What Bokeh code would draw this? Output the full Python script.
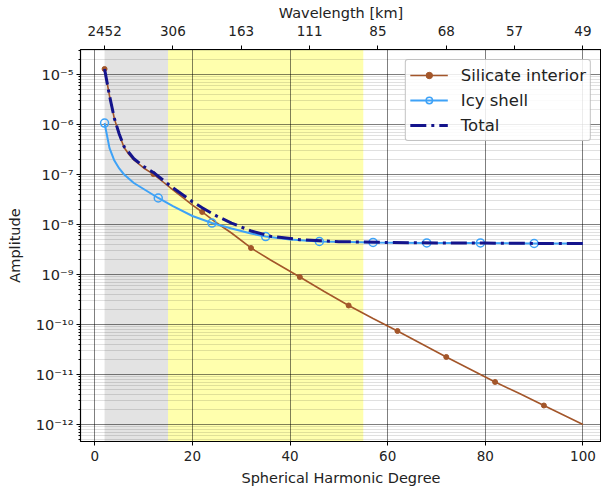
from bokeh.plotting import figure
from bokeh.models import (Range1d, LinearAxis, FixedTicker, BoxAnnotation, Legend,
                          LegendItem, CustomJSTickFormatter)
from bokeh.embed import file_html
from bokeh.resources import INLINE

# ---------------- data ----------------
degree_silicate = [2, 3, 4, 5, 6, 7, 8, 10, 12, 14, 16, 18, 20, 22, 25, 28, 32, 36, 42, 47,
                   52, 57, 62, 67, 72, 77, 82, 87, 92, 96, 100]
amp_silicate = [1.29e-5, 3.80e-6, 1.32e-6, 6.31e-7, 3.47e-7, 2.51e-7, 1.95e-7, 1.35e-7,
                1.02e-7, 7.08e-8, 4.90e-8, 3.47e-8, 2.45e-8, 1.78e-8, 1.07e-8, 6.76e-9,
                3.39e-9, 1.95e-9, 8.91e-10, 4.57e-10, 2.40e-10, 1.32e-10, 7.41e-11,
                4.07e-11, 2.24e-11, 1.26e-11, 7.08e-12, 4.17e-12, 2.40e-12, 1.55e-12, 1.0e-12]
silicate_marker_degrees = [2, 12, 22, 32, 42, 52, 62, 72, 82, 92]

degree_icy = [2, 3, 4, 5, 6, 8, 10, 13, 16, 20, 24, 28, 32, 35, 40, 46, 52, 57, 62, 68,
              74, 79, 85, 90, 95, 100]
amp_icy = [1.07e-6, 3.40e-7, 1.90e-7, 1.32e-7, 1.0e-7, 6.76e-8, 5.13e-8, 3.39e-8, 2.34e-8,
           1.48e-8, 1.07e-8, 8.32e-9, 6.61e-9, 5.75e-9, 5.01e-9, 4.57e-9, 4.47e-9, 4.37e-9,
           4.32e-9, 4.27e-9, 4.27e-9, 4.27e-9, 4.22e-9, 4.17e-9, 4.17e-9, 4.17e-9]
icy_marker_degrees = [2, 13, 24, 35, 46, 57, 68, 79, 90]

degree_total = [2, 3, 4, 5, 6, 8, 10, 12, 14, 16, 18, 20, 22, 25, 28, 32, 36, 42, 50, 60,
                70, 80, 90, 100]
amp_total = [1.294e-5, 3.82e-6, 1.33e-6, 6.46e-7, 3.61e-7, 2.07e-7, 1.45e-7, 1.10e-7,
             7.69e-8, 5.43e-8, 3.94e-8, 2.86e-8, 2.16e-8, 1.47e-8, 1.07e-8, 7.43e-9,
             5.83e-9, 4.98e-9, 4.54e-9, 4.37e-9, 4.29e-9, 4.25e-9, 4.19e-9, 4.17e-9]

degree_ticks = [0, 20, 40, 60, 80, 100]
wavelength_tick_degrees = [2, 16, 30, 44, 58, 72, 86, 100]
wavelength_tick_labels = ["2452", "306", "163", "111", "85", "68", "57", "49"]

gray_band = [2, 15]
yellow_band = [15, 55]

series_labels = ["Silicate interior", "Icy shell", "Total"]

# ---------------- styling ----------------
FONT = "DejaVu Sans"
C_SIL = "#a3562a"
C_ICY = "#3ea2f7"
C_TOT = "#14148c"

p = figure(width=601, height=490,
           x_range=Range1d(-2.93, 103.8),
           y_range=Range1d(10 ** -12.34, 10 ** -4.5),
           y_axis_type="log",
           output_backend="svg", toolbar_location=None,
           min_border_left=80, min_border_right=0,
           min_border_top=49, min_border_bottom=49)
p.background_fill_color = "white"
p.border_fill_color = "white"
p.outline_line_color = "black"
p.outline_line_width = 1

# background bands
p.add_layout(BoxAnnotation(left=gray_band[0], right=gray_band[1], fill_color="gray",
                           fill_alpha=0.22, line_alpha=0, level="image"))
p.add_layout(BoxAnnotation(left=yellow_band[0], right=yellow_band[1], fill_color="yellow",
                           fill_alpha=0.32, line_alpha=0, level="image"))

bottom = p.below[0]
left = p.left[0]

bottom.ticker = FixedTicker(ticks=degree_ticks)
bottom.axis_label = "Spherical Harmonic Degree"
major_y = [10.0 ** e for e in range(-12, -4)]
minor_y = [k * 10.0 ** e for e in range(-13, -4) for k in range(2, 10)]
left.ticker = FixedTicker(ticks=major_y, minor_ticks=minor_y)
left.formatter = CustomJSTickFormatter(code="""
const e = Math.round(Math.log10(tick));
const sup = {'-':'\u207b','0':'\u2070','1':'\u00b9','2':'\u00b2','3':'\u00b3','4':'\u2074',
             '5':'\u2075','6':'\u2076','7':'\u2077','8':'\u2078','9':'\u2079'};
return '10' + String(e).split('').map(c => sup[c]).join('');
""")
left.axis_label = "Amplitude"

top = LinearAxis(ticker=FixedTicker(ticks=wavelength_tick_degrees),
                 major_label_overrides=dict(zip(wavelength_tick_degrees, wavelength_tick_labels)),
                 axis_label="Wavelength [km]")
p.add_layout(top, "above")

for ax in [bottom, left, top]:
    ax.axis_label_text_font = FONT
    ax.axis_label_text_font_style = "normal"
    ax.axis_label_text_font_size = "14.5px"
    ax.axis_label_text_color = "#222222"
    ax.major_label_text_font = FONT
    ax.major_label_text_font_size = "13.5px"
    ax.major_label_text_color = "#222222"
    ax.axis_line_color = "black"
    ax.axis_line_width = 1.2
    ax.major_tick_line_color = "black"
    ax.major_tick_out = 4
    ax.major_tick_in = 0
    ax.minor_tick_line_color = "black"
    ax.minor_tick_out = 2
    ax.minor_tick_in = 0
    ax.axis_label_standoff = 4
    ax.major_label_standoff = 3
top.minor_tick_line_color = None
bottom.minor_tick_line_color = None
left.major_label_text_font_size = "14.5px"
left.axis_label_standoff = 10
top.major_label_standoff = 10
top.axis_label_standoff = 2
bottom.major_label_standoff = 5
bottom.axis_label_standoff = 6

# grids
p.xgrid.grid_line_color = "black"
p.xgrid.grid_line_alpha = 0.5
p.xgrid.minor_grid_line_color = None
p.ygrid.grid_line_color = "black"
p.ygrid.grid_line_alpha = 0.5
p.ygrid.minor_grid_line_color = "black"
p.ygrid.minor_grid_line_alpha = 0.12

# series
sil_line = p.line(degree_silicate, amp_silicate, line_color=C_SIL, line_width=1.6)
sil_x = [d for d in degree_silicate if d in silicate_marker_degrees]
sil_y = [a for d, a in zip(degree_silicate, amp_silicate) if d in silicate_marker_degrees]
sil_mk = p.scatter(sil_x, sil_y, size=5, marker="circle", fill_color=C_SIL, line_color=C_SIL)

icy_line = p.line(degree_icy, amp_icy, line_color=C_ICY, line_width=2)
icy_x = [d for d in degree_icy if d in icy_marker_degrees]
icy_y = [a for d, a in zip(degree_icy, amp_icy) if d in icy_marker_degrees]
icy_mk = p.scatter(icy_x, icy_y, size=8, marker="circle", fill_color=None,
                   line_color=C_ICY, line_width=1.5)

tot_line = p.line(degree_total, amp_total, line_color=C_TOT, line_width=3,
                  line_dash="16 5 3 5")

legend = Legend(items=[
    LegendItem(label=series_labels[0], renderers=[sil_line, sil_mk]),
    LegendItem(label=series_labels[1], renderers=[icy_line, icy_mk]),
    LegendItem(label=series_labels[2], renderers=[tot_line]),
], location="top_right")
legend.label_text_font = FONT
legend.label_text_font_size = "16.5px"
legend.label_text_color = "#222222"
legend.glyph_width = 38
legend.glyph_height = 16
legend.label_height = 22
legend.label_standoff = 13
legend.spacing = 3
legend.padding = 4
legend.margin = 10
legend.border_line_color = "#888888"
legend.border_line_width = 1
legend.border_radius = 3
legend.background_fill_color = "white"
legend.background_fill_alpha = 0.85
p.add_layout(legend)

open("out.html", "w").write(file_html(p, INLINE))
